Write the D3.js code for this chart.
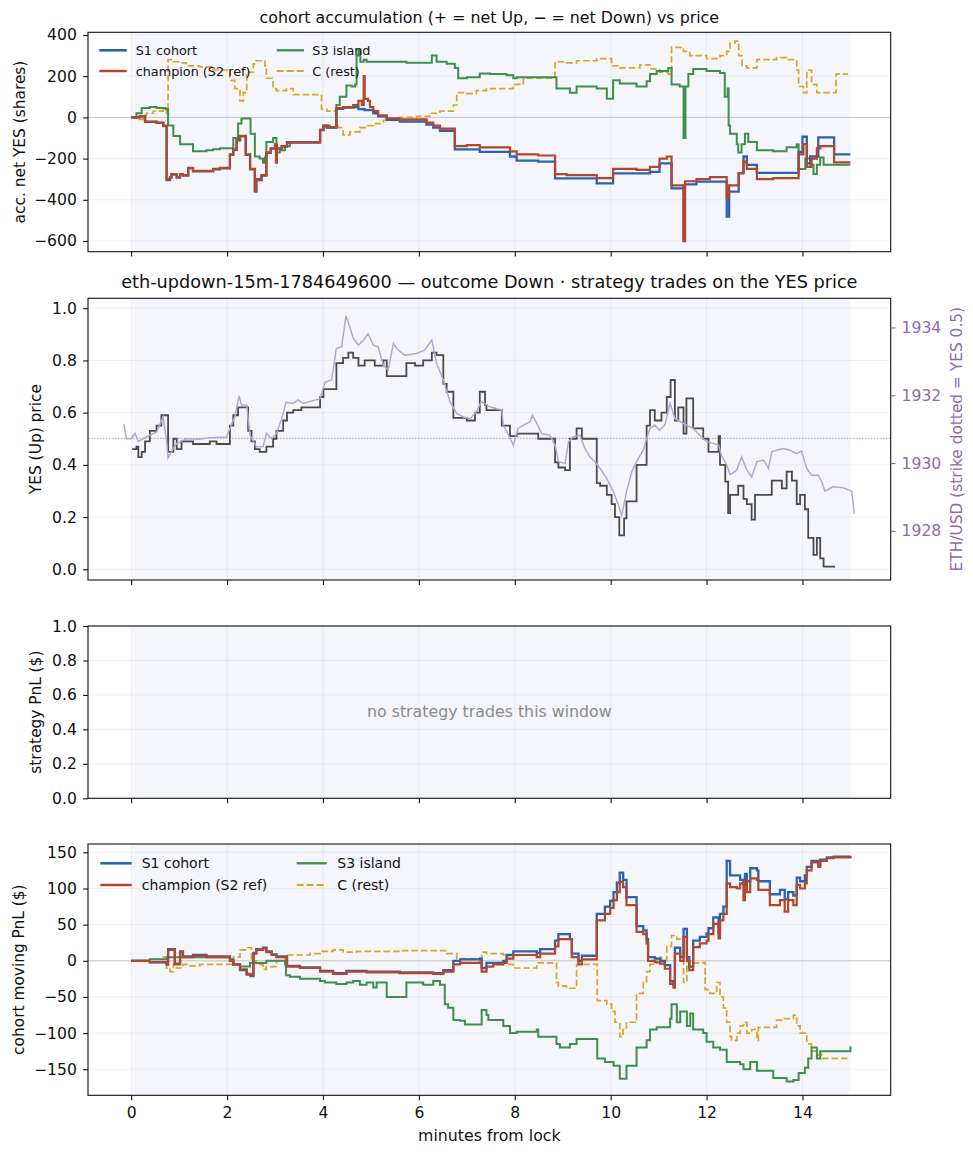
<!DOCTYPE html>
<html>
<head>
<meta charset="utf-8">
<script src="https://cdn.jsdelivr.net/npm/d3@7"></script>
<style>
  body { margin: 0; background: #fff; }
  svg { display: block; font-family: "DejaVu Sans", sans-serif; }
</style>
</head>
<body>
<div id="chart"></div>
<script>
// ---- data (minutes from lock, value) ----
const xTicks = [0, 2, 4, 6, 8, 10, 12, 14]

const champAcc = [[0,0],[0.18,5],[0.29,-21],[0.53,-25],[0.67,-40],[0.74,-300],[0.81,-290],[0.84,-275],[0.95,-290],[1.02,-275],[1.08,-280],[1.19,-245],[1.29,-260],[1.71,-250],[1.85,-245],[2.06,-180],[2.13,-155],[2.20,-110],[2.27,-90],[2.39,-180],[2.48,-250],[2.58,-355],[2.61,-300],[2.72,-280],[2.82,-170],[2.91,-150],[3.00,-130],[3.02,-220],[3.04,-150],[3.14,-140],[3.25,-120],[3.94,-60],[4.01,-40],[4.08,-48],[4.28,45],[4.42,50],[4.63,60],[4.74,80],[4.81,60],[4.85,200],[4.87,90],[4.94,80],[4.98,50],[5.05,30],[5.15,10],[5.33,-5],[5.60,-10],[6.16,-25],[6.30,-40],[6.44,-55],[6.75,-140],[7.00,-135],[7.27,-146],[7.90,-165],[8.04,-180],[8.49,-185],[8.84,-275],[9.08,-280],[9.71,-295],[10.05,-250],[10.54,-255],[10.82,-240],[11.02,-200],[11.17,-190],[11.27,-330],[11.52,-600],[11.55,-310],[11.79,-300],[12.07,-290],[12.42,-390],[12.47,-330],[12.67,-270],[12.77,-215],[12.84,-250],[13.05,-300],[13.39,-295],[13.92,-180],[14.02,-130],[14.09,-240],[14.19,-200],[14.30,-150],[14.37,-140],[14.66,-218],[15.0,-218]]

const s1Acc = [[0,0],[0.18,5],[0.29,-22],[0.53,-27],[0.67,-42],[0.74,-305],[0.81,-292],[0.84,-278],[0.95,-292],[1.02,-278],[1.08,-282],[1.19,-248],[1.29,-262],[1.71,-252],[1.85,-247],[2.06,-182],[2.13,-158],[2.20,-112],[2.27,-92],[2.39,-182],[2.48,-252],[2.58,-360],[2.61,-305],[2.72,-283],[2.82,-172],[2.91,-152],[3.00,-132],[3.04,-152],[3.14,-142],[3.25,-122],[3.94,-62],[4.01,-42],[4.08,-50],[4.28,42],[4.42,47],[4.63,50],[4.74,40],[4.87,35],[5.05,20],[5.15,5],[5.33,-12],[5.60,-20],[6.16,-35],[6.30,-50],[6.44,-65],[6.75,-155],[7.00,-155],[7.27,-167],[7.90,-190],[8.04,-210],[8.49,-215],[8.84,-296],[9.71,-320],[10.05,-272],[10.82,-265],[11.02,-223],[11.27,-345],[11.52,-600],[11.55,-325],[11.79,-312],[12.42,-482],[12.47,-360],[12.67,-272],[12.77,-190],[12.84,-231],[13.05,-269],[13.92,-167],[14.00,-94],[14.09,-223],[14.16,-190],[14.33,-97],[14.66,-180],[15.0,-180]]

const s3Acc = [[0,0],[0.11,20],[0.22,45],[0.39,50],[0.53,45],[0.72,40],[0.77,-40],[0.88,-90],[1.02,-130],[1.29,-165],[1.57,-160],[1.71,-155],[1.85,-150],[2.13,-100],[2.23,-30],[2.30,-5],[2.44,-5],[2.49,-80],[2.58,-190],[2.68,-200],[2.75,-220],[2.79,-195],[2.82,-120],[2.96,-100],[3.03,-170],[3.10,-160],[3.21,-140],[3.31,-120],[3.94,-60],[4.01,-40],[4.14,-50],[4.28,60],[4.35,100],[4.49,155],[4.60,150],[4.67,160],[4.70,300],[4.74,330],[4.78,270],[4.85,280],[4.91,270],[5.74,265],[6.27,300],[6.37,270],[6.58,260],[6.75,240],[6.82,190],[7.00,195],[7.27,213],[7.48,210],[7.83,205],[7.97,190],[8.04,195],[8.87,140],[9.15,120],[9.29,150],[9.71,140],[9.92,90],[10.05,180],[10.19,165],[10.54,150],[10.75,175],[10.82,210],[10.96,225],[11.20,240],[11.27,160],[11.44,150],[11.52,-100],[11.56,150],[11.62,210],[11.72,235],[12.00,225],[12.28,215],[12.38,100],[12.44,140],[12.46,-40],[12.49,-80],[12.63,-130],[12.66,-170],[12.73,-130],[12.80,-80],[12.87,-120],[13.05,-160],[13.39,-165],[13.67,-145],[13.88,-130],[13.92,-250],[14.06,-200],[14.16,-230],[14.23,-275],[14.30,-230],[14.37,-195],[14.44,-230],[15.0,-230]]

const cAcc = [[0,0],[0.11,-10],[0.25,10],[0.32,20],[0.46,30],[0.67,40],[0.74,20],[0.77,280],[0.88,270],[1.02,265],[1.15,250],[1.43,245],[1.71,230],[2.06,180],[2.16,140],[2.27,80],[2.34,120],[2.41,220],[2.55,260],[2.61,275],[2.79,250],[2.82,190],[2.96,140],[3.03,130],[3.24,140],[3.38,110],[3.87,110],[3.97,40],[4.08,30],[4.28,-30],[4.32,-50],[4.42,-85],[4.56,-70],[4.77,-50],[4.91,-40],[5.05,-30],[5.26,-15],[5.60,0],[5.95,5],[6.22,20],[6.44,30],[6.72,60],[6.79,120],[7.00,115],[7.20,130],[7.41,140],[7.76,140],[7.97,160],[8.18,190],[8.53,190],[8.84,270],[9.08,265],[9.29,275],[9.71,285],[10.02,250],[10.19,240],[10.61,255],[10.82,235],[11.02,220],[11.20,210],[11.27,340],[11.52,320],[11.65,300],[12.00,285],[12.28,300],[12.42,320],[12.49,360],[12.59,370],[12.67,300],[12.74,250],[12.84,240],[13.05,280],[13.46,290],[13.67,280],[13.88,230],[13.92,150],[14.02,120],[14.09,230],[14.19,160],[14.30,120],[14.66,120],[14.70,210],[14.95,210]]

const yesPrice = [[0.02,0.46],[0.11,0.47],[0.15,0.43],[0.22,0.45],[0.29,0.49],[0.39,0.53],[0.53,0.55],[0.63,0.59],[0.77,0.45],[0.88,0.50],[0.95,0.46],[1.05,0.49],[1.29,0.48],[1.64,0.49],[1.78,0.48],[2.06,0.55],[2.13,0.59],[2.23,0.62],[2.44,0.53],[2.51,0.49],[2.58,0.46],[2.68,0.45],[2.82,0.47],[2.96,0.50],[3.03,0.53],[3.17,0.57],[3.25,0.60],[3.38,0.61],[3.55,0.62],[3.94,0.66],[4.01,0.69],[4.28,0.79],[4.42,0.81],[4.53,0.83],[4.63,0.81],[4.74,0.78],[4.87,0.80],[5.08,0.78],[5.26,0.80],[5.33,0.74],[5.74,0.79],[5.92,0.78],[6.09,0.80],[6.27,0.83],[6.37,0.82],[6.51,0.71],[6.58,0.68],[6.72,0.58],[7.00,0.57],[7.17,0.60],[7.27,0.68],[7.38,0.63],[7.41,0.61],[7.73,0.55],[7.90,0.51],[8.04,0.52],[8.49,0.50],[8.84,0.41],[8.91,0.39],[9.05,0.38],[9.15,0.50],[9.29,0.54],[9.40,0.50],[9.71,0.33],[9.78,0.32],[9.92,0.285],[10.02,0.25],[10.09,0.20],[10.18,0.13],[10.28,0.195],[10.33,0.26],[10.54,0.40],[10.75,0.55],[10.82,0.61],[10.92,0.57],[11.06,0.60],[11.17,0.66],[11.25,0.725],[11.34,0.57],[11.41,0.62],[11.52,0.52],[11.58,0.655],[11.72,0.54],[11.93,0.50],[12.04,0.45],[12.25,0.51],[12.28,0.40],[12.39,0.336],[12.45,0.215],[12.49,0.285],[12.66,0.32],[12.77,0.27],[12.84,0.25],[12.94,0.19],[13.01,0.285],[13.36,0.34],[13.57,0.31],[13.67,0.374],[13.78,0.34],[13.88,0.25],[13.95,0.285],[14.05,0.23],[14.12,0.12],[14.23,0.055],[14.30,0.12],[14.37,0.042],[14.44,0.01],[14.68,0.01]]

const ethUsd = [[-0.15,1931.14],[-0.10,1930.72],[0.0,1930.72],[0.08,1930.87],[0.15,1930.63],[0.25,1930.72],[0.39,1930.82],[0.53,1930.92],[0.67,1931.36],[0.74,1930.63],[0.77,1930.15],[0.84,1930.33],[0.95,1930.58],[1.15,1930.72],[1.43,1930.70],[1.64,1930.75],[1.99,1930.77],[2.06,1931.02],[2.16,1931.36],[2.25,1931.98],[2.30,1931.71],[2.41,1931.71],[2.48,1930.82],[2.61,1930.48],[2.75,1930.48],[2.82,1930.87],[2.93,1930.72],[3.03,1930.87],[3.14,1931.31],[3.23,1931.79],[3.38,1931.76],[3.48,1931.86],[3.58,1931.76],[3.94,1931.90],[4.04,1932.38],[4.18,1932.45],[4.28,1933.38],[4.39,1933.43],[4.48,1934.34],[4.56,1934.02],[4.63,1933.68],[4.74,1933.48],[4.85,1933.63],[4.94,1933.82],[5.05,1933.48],[5.15,1933.43],[5.26,1932.89],[5.36,1932.74],[5.47,1933.53],[5.57,1933.33],[5.71,1933.18],[5.95,1933.23],[6.12,1933.33],[6.27,1933.63],[6.37,1932.94],[6.51,1932.45],[6.65,1931.81],[6.79,1931.46],[6.93,1931.36],[7.07,1931.31],[7.20,1931.51],[7.30,1931.81],[7.48,1931.66],[7.73,1931.56],[7.76,1931.12],[7.87,1930.82],[7.97,1930.53],[8.07,1931.02],[8.18,1931.12],[8.32,1931.22],[8.37,1931.41],[8.46,1931.17],[8.56,1930.87],[8.73,1930.82],[8.84,1930.53],[8.91,1930.04],[9.05,1929.99],[9.12,1930.63],[9.22,1930.77],[9.36,1930.82],[9.46,1930.43],[9.57,1930.18],[9.67,1930.04],[9.78,1929.84],[9.92,1929.54],[10.06,1929.15],[10.16,1928.76],[10.23,1928.46],[10.33,1929.15],[10.44,1929.74],[10.54,1930.04],[10.68,1930.38],[10.75,1930.72],[10.82,1931.02],[10.92,1931.12],[11.02,1930.97],[11.13,1931.12],[11.24,1931.76],[11.34,1931.31],[11.45,1931.22],[11.58,1931.12],[11.72,1931.02],[11.86,1930.82],[12.00,1930.63],[12.14,1930.58],[12.25,1930.53],[12.31,1930.23],[12.42,1929.94],[12.49,1929.66],[12.63,1929.79],[12.73,1930.18],[12.84,1929.79],[12.94,1929.59],[13.05,1930.04],[13.19,1930.09],[13.29,1929.84],[13.36,1930.33],[13.46,1930.38],[13.60,1930.43],[13.74,1930.38],[13.88,1930.28],[13.98,1930.35],[14.09,1929.84],[14.19,1929.64],[14.33,1929.64],[14.40,1929.45],[14.47,1929.17],[14.64,1929.30],[14.85,1929.27],[15.03,1929.17],[15.08,1928.51]]
const ethStrike = 1930.73

const champPnl = [[0,0],[0.39,-2],[0.74,-5],[0.77,15],[0.88,15],[0.91,-5],[1.02,12],[1.08,5],[1.29,7],[1.57,5],[2.06,0],[2.13,-5],[2.27,-12],[2.41,-18],[2.49,-20],[2.55,10],[2.61,15],[2.75,17],[2.82,12],[2.93,8],[3.03,5],[3.25,-8],[3.52,-10],[3.94,-15],[4.21,-18],[4.49,-15],[4.91,-16],[5.60,-17],[6.30,-18],[6.51,-15],[6.72,-5],[6.86,-3],[7.27,-2],[7.31,-15],[7.41,-8],[7.55,-5],[7.76,-3],[7.83,3],[7.97,8],[8.46,5],[8.53,10],[8.84,20],[8.91,30],[9.19,5],[9.33,-5],[9.40,2],[9.71,56],[9.88,65],[9.99,73],[10.06,84],[10.13,95],[10.19,109],[10.26,102],[10.33,77],[10.54,40],[10.68,37],[10.75,24],[10.78,0],[10.92,-2],[11.03,-4],[11.13,-11],[11.24,-32],[11.31,-37],[11.34,10],[11.45,0],[11.52,33],[11.59,0],[11.64,-13],[11.72,19],[11.86,24],[12.0,28],[12.04,37],[12.14,51],[12.25,31],[12.28,56],[12.35,65],[12.42,107],[12.49,102],[12.63,100],[12.70,107],[12.77,84],[12.80,109],[12.84,95],[12.91,114],[13.05,112],[13.08,98],[13.32,77],[13.53,84],[13.63,68],[13.70,84],[13.81,77],[13.88,105],[13.95,100],[14.05,107],[14.09,125],[14.19,136],[14.33,130],[14.37,138],[14.51,142],[14.65,143],[15.0,144]]

const s1Pnl = [[0,0],[0.39,-2],[0.74,-5],[0.77,16],[0.88,16],[0.91,-4],[1.02,13],[1.08,6],[1.29,8],[1.57,6],[2.06,1],[2.13,-5],[2.27,-13],[2.41,-19],[2.49,-21],[2.55,11],[2.61,16],[2.75,18],[2.82,13],[2.93,9],[3.03,6],[3.25,-7],[3.52,-9],[3.94,-14],[4.21,-17],[4.49,-14],[4.91,-15],[5.60,-16],[6.30,-17],[6.51,-13],[6.72,0],[6.86,2],[7.27,3],[7.31,-10],[7.41,-3],[7.76,0],[7.83,8],[7.97,13],[8.46,11],[8.53,16],[8.84,28],[8.91,37],[9.15,30],[9.19,10],[9.33,0],[9.40,7],[9.71,65],[9.88,75],[9.99,83],[10.06,95],[10.13,108],[10.19,122],[10.26,112],[10.33,88],[10.54,48],[10.68,42],[10.75,30],[10.78,5],[10.92,3],[11.03,0],[11.13,-6],[11.24,-28],[11.31,-33],[11.34,18],[11.45,5],[11.52,44],[11.59,5],[11.64,-8],[11.72,28],[11.86,33],[12.0,38],[12.04,45],[12.14,60],[12.25,38],[12.28,65],[12.35,75],[12.42,138],[12.49,118],[12.63,118],[12.70,112],[12.77,105],[12.80,120],[12.84,110],[12.91,128],[13.05,125],[13.08,110],[13.32,92],[13.53,98],[13.63,85],[13.70,95],[13.81,90],[13.88,115],[13.95,110],[14.05,118],[14.09,130],[14.19,138],[14.33,133],[14.37,140],[14.51,143],[14.65,144],[15.0,145]]

const s3Pnl = [[0,0],[0.39,2],[0.74,5],[1.08,5],[2.06,2],[2.13,-5],[2.27,-8],[2.48,-3],[2.82,0],[3.21,-5],[3.23,-20],[3.31,-22],[3.52,-25],[3.94,-28],[4.04,-30],[4.28,-32],[4.49,-30],[4.63,-28],[4.77,-33],[4.91,-30],[5.05,-37],[5.12,-30],[5.33,-50],[5.74,-30],[6.09,-33],[6.30,-28],[6.44,-33],[6.54,-60],[6.61,-65],[6.72,-82],[6.86,-83],[6.96,-88],[7.27,-88],[7.31,-68],[7.41,-75],[7.45,-82],[7.76,-90],[7.90,-100],[8.04,-98],[8.46,-95],[8.49,-105],[8.87,-115],[8.94,-120],[9.15,-115],[9.29,-108],[9.72,-135],[9.88,-140],[10.06,-145],[10.19,-163],[10.33,-145],[10.54,-120],[10.75,-110],[10.82,-95],[10.96,-92],[11.24,-80],[11.27,-60],[11.38,-85],[11.45,-70],[11.59,-90],[11.66,-73],[11.72,-95],[11.93,-100],[12.0,-112],[12.14,-120],[12.28,-123],[12.42,-140],[12.70,-143],[12.77,-150],[12.91,-140],[13.05,-152],[13.39,-162],[13.67,-167],[13.81,-165],[13.92,-155],[14.05,-148],[14.12,-135],[14.19,-120],[14.30,-135],[14.37,-125],[15.0,-118]]

const cPnl = [[0,0],[0.39,-2],[0.67,5],[0.74,-10],[0.81,-15],[0.88,-5],[0.95,-10],[1.08,-5],[1.22,-7],[1.43,-5],[2.06,-5],[2.13,5],[2.27,15],[2.41,18],[2.51,0],[2.61,-5],[2.75,-12],[2.82,-8],[3.03,0],[3.21,5],[3.24,8],[3.73,10],[3.94,13],[4.21,15],[4.42,12],[4.70,13],[5.60,14],[6.30,14],[6.58,10],[6.79,3],[7.27,3],[7.31,12],[7.41,10],[7.76,8],[7.83,-5],[7.97,-10],[8.46,-3],[8.87,-30],[8.91,-35],[9.08,-38],[9.29,-5],[9.72,-55],[9.92,-60],[10.02,-70],[10.09,-85],[10.19,-105],[10.26,-95],[10.33,-85],[10.54,-45],[10.68,-30],[10.75,-15],[10.82,-5],[10.96,5],[11.06,0],[11.17,20],[11.27,35],[11.38,30],[11.52,-30],[11.59,0],[11.72,-3],[11.93,-2],[11.97,-40],[12.07,-45],[12.21,-30],[12.28,-50],[12.35,-65],[12.42,-85],[12.49,-105],[12.52,-110],[12.63,-100],[12.70,-90],[12.77,-85],[12.84,-100],[12.94,-95],[13.05,-110],[13.08,-92],[13.46,-82],[13.57,-80],[13.81,-75],[13.88,-90],[13.95,-100],[14.09,-115],[14.19,-125],[14.30,-130],[14.41,-135],[15.0,-135]]

const seriesNames = ['S1 cohort', 'champion (S2 ref)', 'S3 island', 'C (rest)']

// ---- styling ----
const W = 973, H = 1156
const left = 88, right = 890.7
const font = '"DejaVu Sans", sans-serif'
const tickFs = 15.6, labelFs = 15.4
const styles = {
  'S1 cohort': { color: '#2a62b4', width: 2.3, dash: null },
  'champion (S2 ref)': { color: '#b4462a', width: 2.2, dash: null },
  'S3 island': { color: '#3d8f4a', width: 2.0, dash: null },
  'C (rest)': { color: '#dba421', width: 1.7, dash: '6.5,3' }
}

const svg = d3.select('#chart').append('svg')
  .attr('width', W).attr('height', H)
  .attr('font-family', font)

const x = d3.scaleLinear().domain([-0.9, 15.84]).range([left, right])

const panels = [
  { top: 32.3, bottom: 251.7, domain: [-652, 413], ticks: [-600, -400, -200, 0, 200, 400], fmt: d3.format('d'), label: 'acc. net YES (shares)', labelX: 24.5 },
  { top: 298.3, bottom: 580, domain: [-0.041, 1.038], ticks: [0, 0.2, 0.4, 0.6, 0.8, 1.0], fmt: d3.format('.1f'), label: 'YES (Up) price', labelX: 40.5 },
  { top: 626, bottom: 798.3, domain: [0, 1], ticks: [0, 0.2, 0.4, 0.6, 0.8, 1.0], fmt: d3.format('.1f'), label: 'strategy PnL ($)', labelX: 40.5 },
  { top: 844, bottom: 1095.3, domain: [-186, 161.5], ticks: [-150, -100, -50, 0, 50, 100, 150], fmt: d3.format('d'), label: 'cohort moving PnL ($)', labelX: 24 }
]

panels.forEach((p, i) => {
  p.y = d3.scaleLinear().domain(p.domain).range([p.bottom, p.top])
  p.g = svg.append('g')
  const clipId = 'clip' + i
  svg.append('clipPath').attr('id', clipId)
    .append('rect').attr('x', left).attr('y', p.top)
    .attr('width', right - left).attr('height', p.bottom - p.top)
  p.clip = `url(#${clipId})`

  // shaded trading window
  p.g.append('rect')
    .attr('x', x(0)).attr('y', p.top)
    .attr('width', x(15) - x(0)).attr('height', p.bottom - p.top)
    .attr('fill', '#f4f6fb')

  // grid
  p.g.selectAll('.gx').data(xTicks).enter().append('line')
    .attr('x1', d => x(d)).attr('x2', d => x(d))
    .attr('y1', p.top).attr('y2', p.bottom)
    .attr('stroke', '#b0b0b0').attr('stroke-opacity', 0.22).attr('stroke-width', 0.8)
  p.g.selectAll('.gy').data(p.ticks).enter().append('line')
    .attr('x1', left).attr('x2', right)
    .attr('y1', d => p.y(d)).attr('y2', d => p.y(d))
    .attr('stroke', '#b0b0b0').attr('stroke-opacity', 0.22).attr('stroke-width', 0.8)
})

const stepLine = yScale => d3.line()
  .x(d => x(d[0])).y(d => yScale(d[1]))
  .curve(d3.curveStepAfter)

function drawSeries(p, name, data) {
  const s = styles[name]
  p.g.append('path')
    .datum(data)
    .attr('clip-path', p.clip)
    .attr('fill', 'none')
    .attr('stroke', s.color)
    .attr('stroke-width', s.width)
    .attr('stroke-dasharray', s.dash)
    .attr('stroke-linejoin', 'miter')
    .attr('d', stepLine(p.y))
}

function zeroLine(p) {
  p.g.append('line')
    .attr('x1', left).attr('x2', right)
    .attr('y1', p.y(0)).attr('y2', p.y(0))
    .attr('stroke', '#c8c8c8').attr('stroke-width', 1)
}

// ---- panel 1: accumulation ----
const p1 = panels[0]
zeroLine(p1)
drawSeries(p1, 'C (rest)', cAcc)
drawSeries(p1, 'S3 island', s3Acc)
drawSeries(p1, 'S1 cohort', s1Acc)
drawSeries(p1, 'champion (S2 ref)', champAcc)

// ---- panel 2: YES price + ETH ----
const p2 = panels[1]
const yEth = d3.scaleLinear().domain([1926.55, 1934.86]).range([p2.bottom, p2.top])
p2.g.append('line')
  .attr('x1', left).attr('x2', right)
  .attr('y1', yEth(ethStrike)).attr('y2', yEth(ethStrike))
  .attr('stroke', '#a99cc2').attr('stroke-width', 1).attr('stroke-dasharray', '1.5,1.5')
p2.g.append('path')
  .datum(yesPrice)
  .attr('clip-path', p2.clip)
  .attr('fill', 'none')
  .attr('stroke', '#4a4a4a')
  .attr('stroke-width', 1.8)
  .attr('d', stepLine(p2.y))
p2.g.append('path')
  .datum(ethUsd)
  .attr('clip-path', p2.clip)
  .attr('fill', 'none')
  .attr('stroke', '#b7a5d1')
  .attr('stroke-width', 1.5)
  .attr('d', d3.line().x(d => x(d[0])).y(d => yEth(d[1])))

// ---- panel 3: strategy pnl (empty) ----
const p3 = panels[2]
p3.g.append('text')
  .attr('x', (left + right) / 2).attr('y', 716.5)
  .attr('text-anchor', 'middle')
  .attr('font-size', 15.8).attr('fill', '#8a8a8a')
  .text('no strategy trades this window')

// ---- panel 4: moving pnl ----
const p4 = panels[3]
zeroLine(p4)
drawSeries(p4, 'C (rest)', cPnl)
drawSeries(p4, 'S3 island', s3Pnl)
drawSeries(p4, 'S1 cohort', s1Pnl)
drawSeries(p4, 'champion (S2 ref)', champPnl)

// ---- axes ----
panels.forEach((p, i) => {
  const yAxis = p.g.append('g')
    .attr('transform', `translate(${left},0)`)
    .call(d3.axisLeft(p.y).tickValues(p.ticks).tickFormat(p.fmt).tickSize(4.9).tickPadding(6.3))
  yAxis.select('.domain').remove()
  yAxis.selectAll('text').attr('font-size', tickFs).attr('fill', '#111').attr('font-family', font)
  yAxis.selectAll('line').attr('stroke', '#111').attr('stroke-width', 1.1)

  const xAxis = p.g.append('g')
    .attr('transform', `translate(0,${p.bottom})`)
    .call(d3.axisBottom(x).tickValues(xTicks).tickSize(4.9).tickPadding(6.5)
      .tickFormat(i === 3 ? d3.format('d') : () => ''))
  xAxis.select('.domain').remove()
  xAxis.selectAll('text').attr('font-size', tickFs).attr('fill', '#111').attr('font-family', font)
  xAxis.selectAll('line').attr('stroke', '#111').attr('stroke-width', 1.1)

  p.g.append('rect')
    .attr('x', left).attr('y', p.top)
    .attr('width', right - left).attr('height', p.bottom - p.top)
    .attr('fill', 'none').attr('stroke', '#111').attr('stroke-width', 1.1)

  p.g.append('text')
    .attr('transform', `translate(${p.labelX},${(p.top + p.bottom) / 2}) rotate(-90)`)
    .attr('text-anchor', 'middle')
    .attr('font-size', labelFs).attr('fill', '#111')
    .text(p.label)
})

// right axis for ETH
const ethAxis = p2.g.append('g')
  .attr('transform', `translate(${right},0)`)
  .call(d3.axisRight(yEth).tickValues([1928, 1930, 1932, 1934]).tickFormat(d3.format('d')).tickSize(4.9).tickPadding(6))
ethAxis.select('.domain').remove()
ethAxis.selectAll('text').attr('font-size', tickFs).attr('fill', '#8c6bb1').attr('font-family', font)
ethAxis.selectAll('line').attr('stroke', '#8c6bb1').attr('stroke-width', 1.1)
p2.g.append('text')
  .attr('transform', `translate(962,${(p2.top + p2.bottom) / 2}) rotate(-90)`)
  .attr('text-anchor', 'middle')
  .attr('font-size', labelFs).attr('fill', '#8c6bb1')
  .text('ETH/USD (strike dotted = YES 0.5)')

// titles
svg.append('text')
  .attr('x', (left + right) / 2).attr('y', 23)
  .attr('text-anchor', 'middle').attr('font-size', 15.85).attr('fill', '#111')
  .text('cohort accumulation (+ = net Up, \u2212 = net Down) vs price')
svg.append('text')
  .attr('x', (left + right) / 2).attr('y', 288)
  .attr('text-anchor', 'middle').attr('font-size', 17.7).attr('fill', '#111')
  .text('eth-updown-15m-1784649600 \u2014 outcome Down \u00b7 strategy trades on the YES price')

// x label
svg.append('text')
  .attr('x', (left + right) / 2).attr('y', 1140.7)
  .attr('text-anchor', 'middle').attr('font-size', 15.8).attr('fill', '#111')
  .text('minutes from lock')

// ---- legends ----
function legend(p, cfg) {
  const order = [[0, 0], [0, 1], [1, 0], [1, 1]]
  seriesNames.forEach((name, k) => {
    const [col, row] = order[k]
    const s = styles[name]
    const cy = cfg.rows[row]
    const hx = cfg.handles[col]
    p.g.append('line')
      .attr('x1', hx[0]).attr('x2', hx[1]).attr('y1', cy).attr('y2', cy)
      .attr('stroke', s.color).attr('stroke-width', s.width + 0.3)
      .attr('stroke-dasharray', s.dash ? '7,3' : null)
    p.g.append('text')
      .attr('x', cfg.texts[col]).attr('y', cy + cfg.size * 0.36)
      .attr('font-size', cfg.size).attr('fill', '#111')
      .text(name)
  })
}
legend(p1, { rows: [50.3, 71], handles: [[99.3, 126.7], [276.7, 304]], texts: [135.7, 312.3], size: 12.8 })
legend(p4, { rows: [863.3, 885], handles: [[100.3, 131.7], [296.7, 326.7]], texts: [141.7, 337.3], size: 14 })
</script>
</body>
</html>
